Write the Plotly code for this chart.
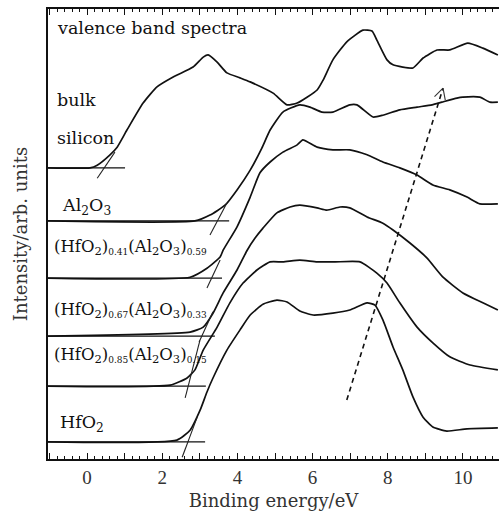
import math
import plotly.graph_objects as go

# Valence band spectra (binding energy in eV, intensity in arbitrary units, curves offset)
si_x = [-1.04, 0.08, 0.27, 0.61, 0.80, 1.06, 1.49, 1.86, 2.29, 2.82, 3.09, 3.22, 3.46, 3.72, 4.07, 4.34,
        4.95, 5.32, 5.59, 6.12, 6.28, 6.54, 6.91, 7.34, 7.58, 7.71, 7.98, 8.14, 8.67, 8.94, 9.31, 9.65,
        10.13, 10.53, 10.93]
si_y = [6.47, 6.47, 6.53, 6.76, 6.93, 7.31, 7.91, 8.27, 8.49, 8.71, 8.93, 8.98, 8.82, 8.58, 8.47, 8.38,
        8.13, 7.87, 7.91, 8.20, 8.42, 8.87, 9.27, 9.53, 9.51, 9.31, 8.87, 8.76, 8.69, 8.91, 9.09, 9.09,
        9.24, 9.13, 8.98]

al_x = [-1.04, 2.87, 3.27, 3.67, 3.99, 4.34, 4.65, 4.87, 5.21, 5.66, 5.93, 6.25, 6.54, 6.99, 7.18, 7.61,
        7.87, 8.32, 8.78, 9.18, 9.44, 9.84, 10.0, 10.45, 10.72, 10.93]
al_y = [5.29, 5.29, 5.42, 5.64, 5.98, 6.42, 6.91, 7.31, 7.71, 7.87, 7.82, 7.71, 7.71, 7.87, 7.87, 7.60,
        7.64, 7.76, 7.82, 7.87, 7.93, 8.02, 8.04, 8.04, 7.93, 7.93]

h41_x = [-1.04, 2.74, 3.19, 3.54, 3.62, 3.99, 4.34, 4.60, 4.87, 5.21, 5.59, 5.74, 6.12, 6.54, 6.99, 7.45,
         7.87, 8.32, 8.78, 9.20, 9.65, 10.11, 10.45, 10.93]
h41_y = [4.02, 4.04, 4.24, 4.49, 4.64, 5.16, 5.82, 6.36, 6.60, 6.82, 6.98, 7.09, 6.93, 6.87, 6.87, 6.76,
         6.60, 6.47, 6.31, 6.09, 5.98, 5.82, 5.67, 5.67]

h67_x = [-1.04, 2.74, 3.09, 3.35, 3.62, 3.99, 4.26, 4.47, 4.68, 5.05, 5.40, 5.66, 6.12, 6.38, 6.73, 6.99,
         7.45, 7.87, 8.14, 8.59, 9.04, 9.47, 10.0, 10.53, 10.93]
h67_y = [2.73, 2.82, 2.93, 3.24, 3.69, 4.20, 4.64, 4.91, 5.13, 5.47, 5.60, 5.64, 5.58, 5.53, 5.60, 5.58,
         5.38, 5.24, 5.09, 4.80, 4.47, 4.04, 3.69, 3.47, 3.31]

h85_x = [-1.04, 2.21, 2.66, 2.87, 3.09, 3.46, 3.80, 4.15, 4.52, 4.87, 5.21, 5.66, 6.12, 6.60, 7.26, 7.71,
         7.98, 8.32, 8.78, 9.20, 9.65, 10.19, 10.93]
h85_y = [1.62, 1.64, 1.80, 1.98, 2.42, 2.93, 3.47, 3.91, 4.20, 4.38, 4.38, 4.42, 4.38, 4.38, 4.38, 4.13,
         3.91, 3.47, 2.93, 2.58, 2.27, 2.09, 1.98]

hf_x = [-1.04, 2.39, 2.74, 3.01, 3.19, 3.35, 3.72, 4.07, 4.34, 4.68, 5.05, 5.32, 5.66, 6.01, 6.54, 6.99,
        7.45, 7.66, 7.87, 8.14, 8.40, 8.67, 8.94, 9.20, 9.57, 10.11, 10.93]
hf_y = [0.38, 0.42, 0.64, 1.09, 1.49, 1.80, 2.42, 2.87, 3.20, 3.44, 3.53, 3.49, 3.29, 3.20, 3.24, 3.31,
        3.47, 3.42, 3.09, 2.49, 1.98, 1.38, 0.93, 0.71, 0.62, 0.67, 0.69]

# Baseline levels and the energy where each baseline guide ends
base_y = [6.47, 5.29, 4.02, 2.73, 1.62, 0.38]
base_end = [1.01, 3.78, 3.59, 3.40, 3.16, 3.14]

# Leading-edge linear extrapolations (x0, y0, x1, y1)
edge_x0 = [0.27, 3.27, 3.19, 2.98, 2.61, 2.53]
edge_y0 = [6.24, 4.98, 3.80, 2.60, 1.36, 0.04]
edge_x1 = [0.74, 3.72, 3.54, 3.35, 3.00, 2.93]
edge_y1 = [6.82, 5.69, 4.42, 3.27, 2.63, 0.93]

# Peak shift guide (dashed arrow)
shift_x = [6.91, 9.47]
shift_y = [1.31, 8.24]

plain_labels = ["valence band spectra", "bulk", "silicon", "Al<sub>2</sub>O<sub>3</sub>", "HfO<sub>2</sub>"]
plain_x = [-0.85, -0.85, -0.85, -0.72, -0.77]
plain_y = [9.58, 7.98, 7.13, 5.62, 0.80]

# Mixed-oxide compositions: HfO2 fraction, Al2O3 fraction
mix_hf = ["0.41", "0.67", "0.85"]
mix_al = ["0.59", "0.33", "0.15"]
mix_x = [-0.93, -0.93, -0.93]
mix_y = [4.69, 3.31, 2.31]

x_range = [-1.04, 10.96]
y_range = [0, 10]

SERIF = "DejaVu Serif"
TICKFONT = "Liberation Serif"
INK = "#111"


def frac(s):
    return '<sub><span style="font-size:9px">' + s + '</span></sub>'


mix_labels = ["(HfO<sub>2</sub>)" + frac(a) + "(Al<sub>2</sub>O<sub>3</sub>)" + frac(b)
              for a, b in zip(mix_hf, mix_al)]

fig = go.Figure()

for xs, ys in [(si_x, si_y), (al_x, al_y), (h41_x, h41_y), (h67_x, h67_y), (h85_x, h85_y), (hf_x, hf_y)]:
    fig.add_trace(go.Scatter(x=xs, y=ys, mode="lines",
                             line=dict(color=INK, width=1.7, shape="spline", smoothing=0.5),
                             hoverinfo="skip", showlegend=False))

for yb, xe in zip(base_y, base_end):
    fig.add_trace(go.Scatter(x=[x_range[0], xe], y=[yb, yb], mode="lines", line=dict(color=INK, width=1.3),
                             hoverinfo="skip", showlegend=False))

for a, b, c, d in zip(edge_x0, edge_y0, edge_x1, edge_y1):
    fig.add_trace(go.Scatter(x=[a, c], y=[b, d], mode="lines", line=dict(color="#222", width=1.1),
                             hoverinfo="skip", showlegend=False))

fig.add_trace(go.Scatter(x=shift_x, y=shift_y, mode="lines",
                         line=dict(color=INK, width=1.6, dash="5px,4px"),
                         hoverinfo="skip", showlegend=False))

# Open arrowhead at the upper end of the shift guide, built in screen proportions
px_per_x = 451 / (x_range[1] - x_range[0])
px_per_y = 450 / (y_range[1] - y_range[0])
dxp = (shift_x[1] - shift_x[0]) * px_per_x
dyp = (shift_y[1] - shift_y[0]) * px_per_y
ang = math.atan2(dyp, dxp)
head_len, spread = 12.0, math.radians(28)
hx, hy = [], []
for s in (-1, 1):
    a = ang + math.pi + s * spread
    hx += [shift_x[1] + head_len * math.cos(a) / px_per_x, shift_x[1], None]
    hy += [shift_y[1] + head_len * math.sin(a) / px_per_y, shift_y[1], None]
fig.add_trace(go.Scatter(x=hx, y=hy, mode="lines", line=dict(color="#333", width=1.1),
                         hoverinfo="skip", showlegend=False))

for t, lx, ly in zip(plain_labels, plain_x, plain_y):
    fig.add_annotation(x=lx, y=ly, xref="x", yref="y", text=t, showarrow=False, xanchor="left",
                       yanchor="middle", font=dict(family=SERIF, size=17.5, color=INK))

for t, lx, ly in zip(mix_labels, mix_x, mix_y):
    fig.add_annotation(x=lx, y=ly, xref="x", yref="y", text=t, showarrow=False, xanchor="left",
                       yanchor="middle", font=dict(family=SERIF, size=16.5, color=INK))

tick_vals = list(range(-1, 11))
tick_text = [str(v) if v % 2 == 0 and v >= 0 else "" for v in tick_vals]

fig.update_layout(
    width=499, height=519,
    margin=dict(l=48, r=0, t=9, b=60),
    paper_bgcolor="white", plot_bgcolor="white",
    font=dict(family=SERIF, size=17, color="#222"),
    xaxis=dict(range=x_range, tickvals=tick_vals, ticktext=tick_text, ticks="inside", ticklen=6,
               tickwidth=1.2, tickcolor=INK, showline=True, linecolor=INK, linewidth=1.5, mirror="ticks",
               showgrid=False, zeroline=False,
               minor=dict(dtick=0.2, tick0=0, ticks="inside", ticklen=3, tickwidth=1, tickcolor=INK,
                          showgrid=False),
               tickfont=dict(family=TICKFONT, size=19, color="#333"),
               title=dict(text="Binding energy/eV", font=dict(family=SERIF, size=18, color="#333"),
                          standoff=8)),
    yaxis=dict(range=y_range, showticklabels=False, ticks="", showline=True, linecolor=INK, linewidth=1.5,
               showgrid=False, zeroline=False,
               title=dict(text="Intensity/arb. units", font=dict(family=SERIF, size=18, color="#333"),
                          standoff=14)),
)

fig.write_html("out.html")
